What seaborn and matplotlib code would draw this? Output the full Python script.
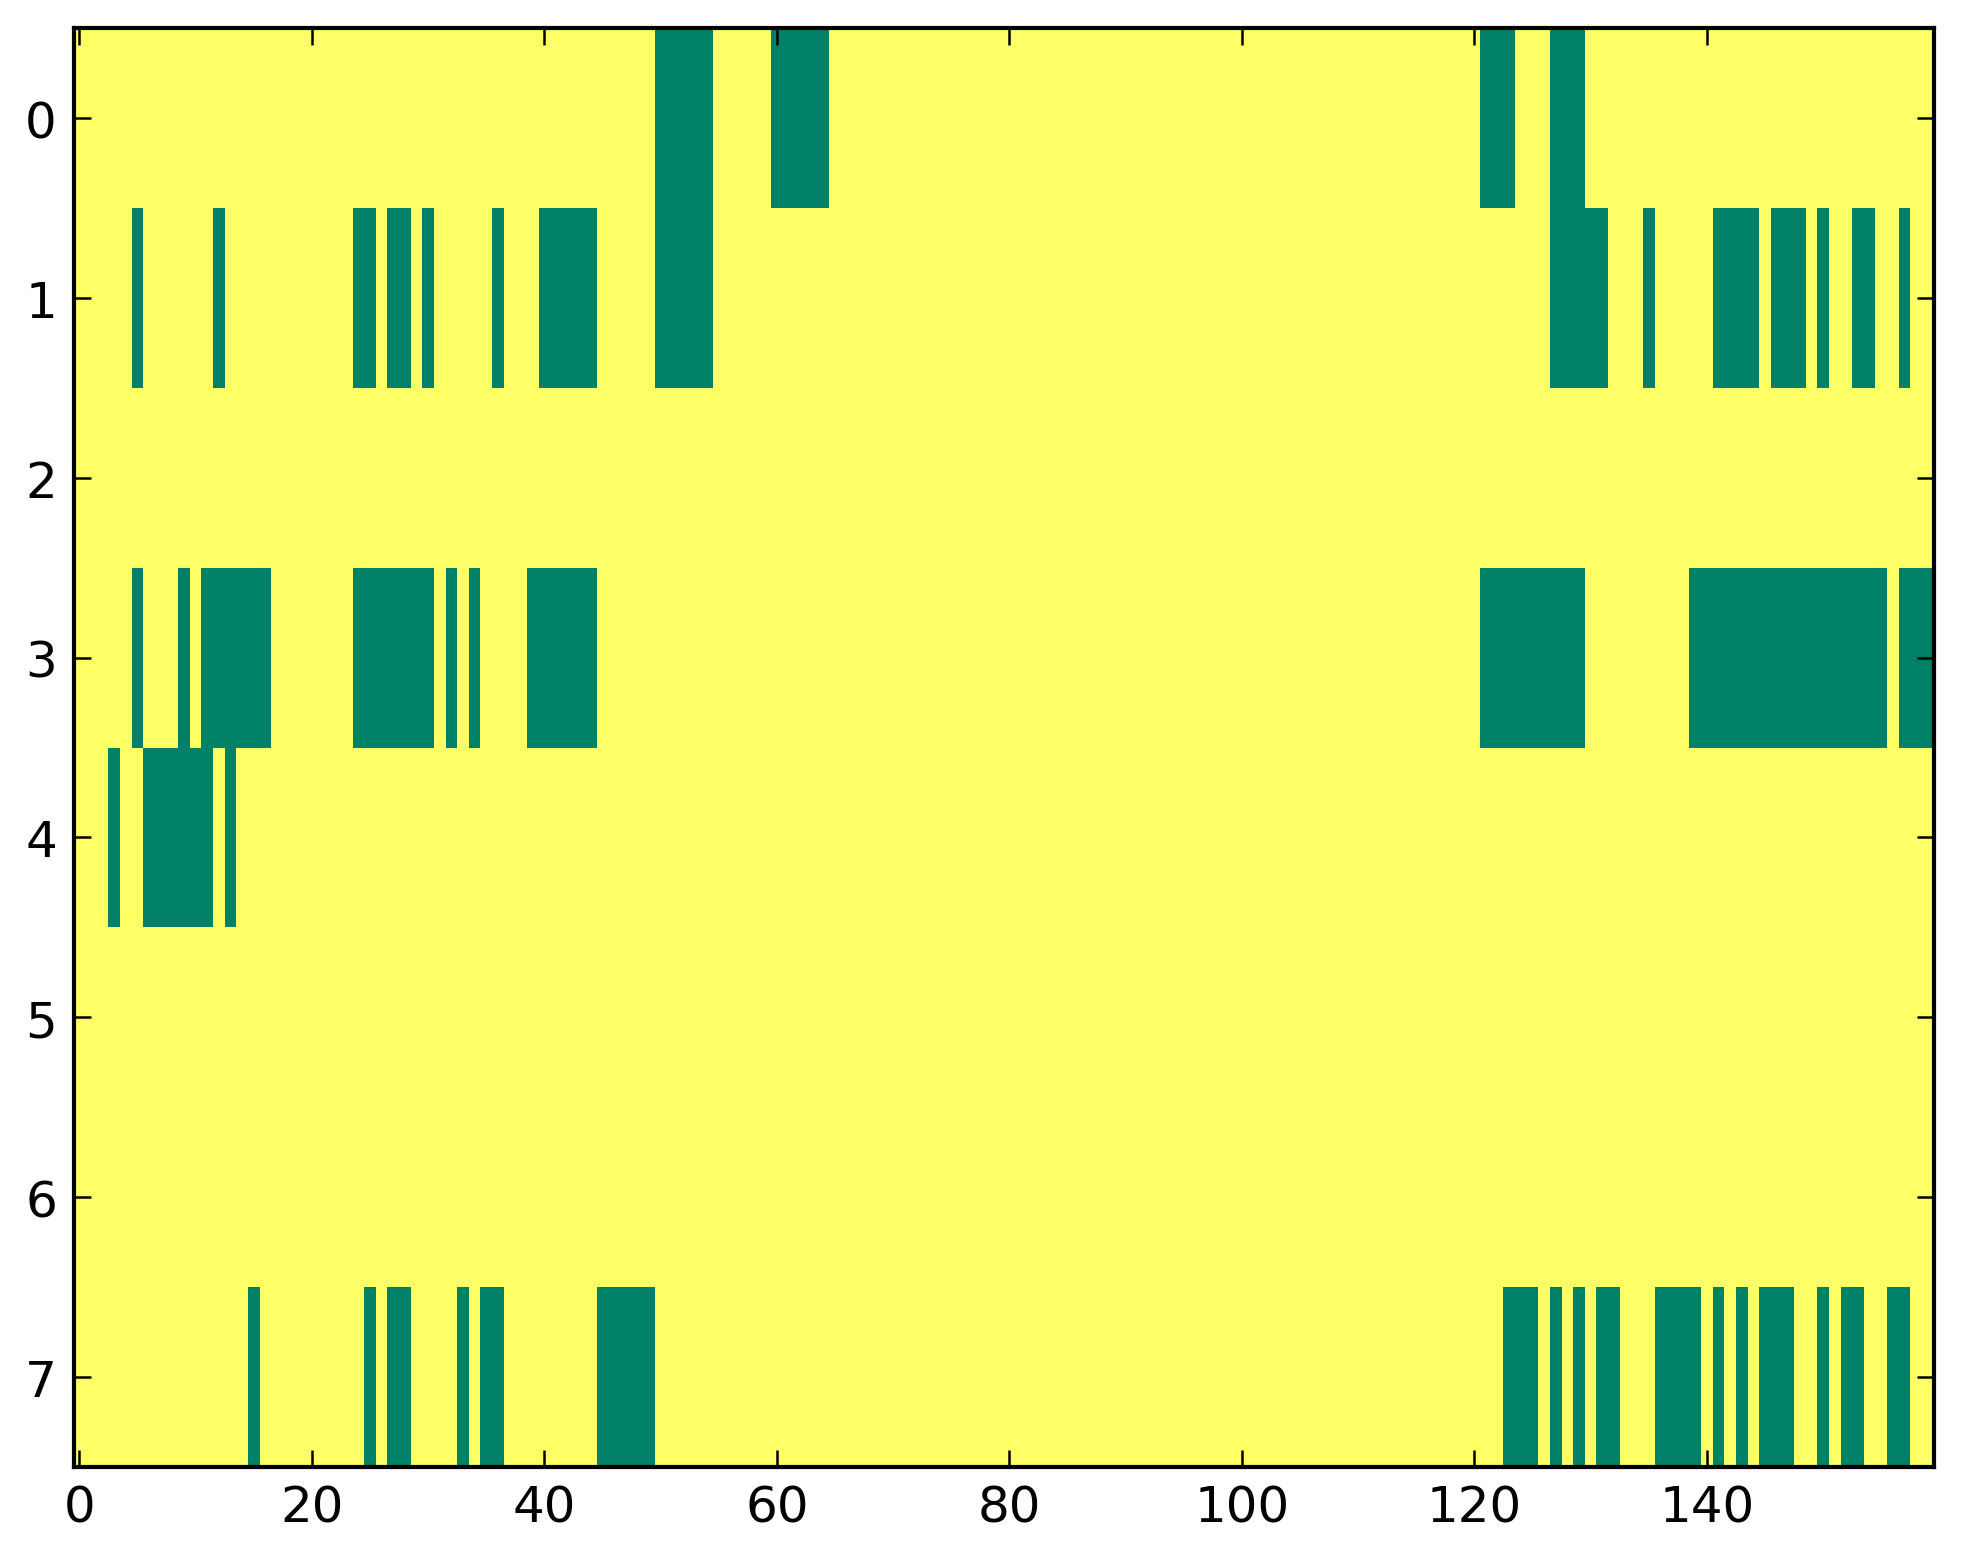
import numpy as np
import pandas as pd
import matplotlib
matplotlib.use("Agg")
import matplotlib.pyplot as plt
import seaborn as sns

# --- dados: colunas com valor 0 (verde) em cada linha, em intervalos inclusivos ---
N_COLS = 160
row_labels = [0, 1, 2, 3, 4, 5, 6, 7]
row0_zeros = [(50, 54), (60, 64), (121, 123), (127, 129)]
row1_zeros = [(5, 5), (12, 12), (24, 25), (27, 28), (30, 30), (36, 36), (40, 44),
              (50, 54), (127, 131), (135, 135), (141, 144), (146, 148), (150, 150),
              (153, 154), (157, 157)]
row2_zeros = []
row3_zeros = [(5, 5), (9, 9), (11, 16), (24, 30), (32, 32), (34, 34), (39, 44),
              (121, 129), (139, 155), (157, 159)]
row4_zeros = [(3, 3), (6, 11), (13, 13)]
row5_zeros = []
row6_zeros = []
row7_zeros = [(15, 15), (25, 25), (27, 28), (33, 33), (35, 36), (45, 49),
              (123, 125), (127, 127), (129, 129), (131, 132), (136, 139), (141, 141),
              (143, 143), (145, 147), (150, 150), (152, 153), (156, 157)]

xtick_vals = [0, 20, 40, 60, 80, 100, 120, 140]

rows = [row0_zeros, row1_zeros, row2_zeros, row3_zeros,
        row4_zeros, row5_zeros, row6_zeros, row7_zeros]
matriz = np.ones((len(rows), N_COLS))
for i, spans in enumerate(rows):
    for a, b in spans:
        matriz[i, a:b + 1] = 0
df = pd.DataFrame(matriz, index=row_labels)

# --- gráfico ---
sns.set_style("ticks")
plt.rcParams['font.family'] = ['DejaVu Sans']

fig = plt.figure(figsize=(1963 / 300, 1564 / 300), dpi=300)
ax = fig.add_axes([0.0375, 0.0614, 0.9475, 0.920])

sns.heatmap(df, cmap='summer', vmin=0, vmax=1, cbar=False, ax=ax,
            xticklabels=False, yticklabels=False)
ax.set_axisbelow(False)

ax.set_xticks([v + 0.5 for v in xtick_vals])
ax.set_xticklabels([str(v) for v in xtick_vals], rotation=0, fontsize=12)
ax.set_yticks([r + 0.5 for r in row_labels])
ax.set_yticklabels([str(r) for r in row_labels], rotation=0, fontsize=12)
ax.set_xlabel("")
ax.set_ylabel("")

ax.tick_params(direction='in', length=4, width=0.6, top=True, right=True,
               labeltop=False, labelright=False, colors='black', pad=4)
for s in ax.spines.values():
    s.set_visible(True)
    s.set_linewidth(1.0)
    s.set_color('black')
    s.set_zorder(5)

plt.savefig('out.png', dpi=300)
